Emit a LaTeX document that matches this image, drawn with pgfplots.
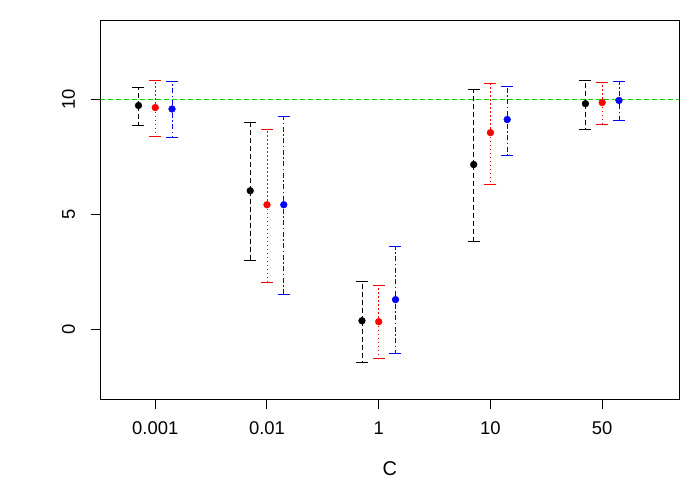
\documentclass[border=0pt]{standalone}
\usepackage{pgfplots}
\pgfplotsset{compat=1.18}
\usepackage{fontspec}
\setmainfont{Liberation Sans}
\definecolor{rgreen}{RGB}{0,215,0}
\begin{document}
\begin{tikzpicture}[x=1bp,y=1bp]
\useasboundingbox (0,0) rectangle (700,500);
\begin{axis}[
  at={(100.5bp,100.7bp)}, anchor=south west,
  scale only axis, width=578.8bp, height=379bp,
  xmin=0.51, xmax=5.69, ymin=-3.06, ymax=13.44,
  xtick={1,2,3,4,5}, xticklabels={0.001,0.01,1,10,50},
  ytick={0,5,10},
  tick align=outside, major tick length=10bp,
  xtick pos=lower, ytick pos=left,
  axis line style={line width=1bp},
  every tick/.style={black, line width=1bp},
  /pgf/number format/assume math mode=true,
  ticklabel style={font=\fontsize{18.5}{20}\selectfont},
  xticklabel style={yshift=-9bp},
  yticklabel style={rotate=90, anchor=south, yshift=12bp},
  xlabel={C},
  xlabel style={font=\fontsize{20}{22}\selectfont, yshift=-20bp},
  clip=true,
]
\addplot[rgreen, line width=0.9bp, dash pattern=on 5bp off 3bp, forget plot] coordinates {(0,10) (6,10)};

\addplot[only marks, mark=*, mark size=3.4bp, black,
  error bars/.cd, y dir=both, y explicit,
  error bar style={line width=0.9bp, dash pattern=on 5bp off 3bp},
  error mark options={rotate=90, mark size=6bp, line width=0.9bp, solid}]
  table[x=x, y=y, y error plus=p, y error minus=m] {
x y p m
0.85 9.73 0.80 0.86
1.85 6.02 2.98 3.03
2.85 0.36 1.72 1.81
3.85 7.16 3.28 3.34
4.85 9.81 1.02 1.11
};

\addplot[only marks, mark=*, mark size=3.4bp, red,
  error bars/.cd, y dir=both, y explicit,
  error bar style={line width=0.9bp, dash pattern=on 1.5bp off 2.5bp},
  error mark options={rotate=90, mark size=6bp, line width=0.9bp, solid}]
  table[x=x, y=y, y error plus=p, y error minus=m] {
x y p m
1 9.64 1.19 1.25
2 5.41 3.29 3.38
3 0.32 1.58 1.58
4 8.55 2.15 2.25
5 9.86 0.88 0.94
};

\addplot[only marks, mark=*, mark size=3.4bp, blue,
  error bars/.cd, y dir=both, y explicit,
  error bar style={line width=0.9bp, dash pattern=on 1.5bp off 2.5bp on 5bp off 2.5bp},
  error mark options={rotate=90, mark size=6bp, line width=0.9bp, solid}]
  table[x=x, y=y, y error plus=p, y error minus=m] {
x y p m
1.15 9.58 1.21 1.23
2.15 5.41 3.85 3.90
3.15 1.28 2.32 2.34
4.15 9.12 1.46 1.56
5.15 9.95 0.84 0.86
};
\end{axis}
\end{tikzpicture}
\end{document}
